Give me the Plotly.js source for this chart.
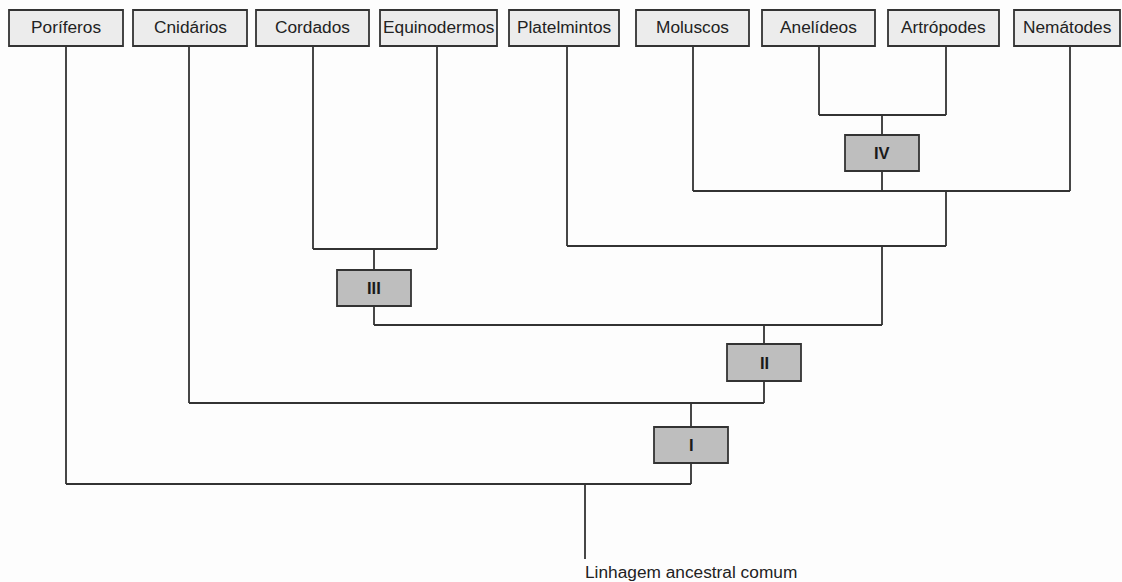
<!DOCTYPE html>
<html>
<head>
<meta charset="utf-8">
<script src="https://cdn.plot.ly/plotly-3.0.1.min.js"></script>
<style>
  html, body { margin: 0; padding: 0; background: #fdfdfd; }
  #chart { width: 1122px; height: 582px; }
</style>
</head>
<body>
<div id="chart"></div>
<script>
// ---- content ----
const taxa = ['Poríferos', 'Cnidários', 'Cordados', 'Equinodermos', 'Platelmintos', 'Moluscos', 'Anelídeos', 'Artrópodes', 'Nemátodes'];
const cladeIds = ['A', 'B', 'C', 'D', 'E', 'F', 'R'];
const cladeChildren = [
  ['Anelídeos', 'Artrópodes'],
  ['Moluscos', 'A', 'Nemátodes'],
  ['Platelmintos', 'B'],
  ['Cordados', 'Equinodermos'],
  ['D', 'C'],
  ['Cnidários', 'E'],
  ['Poríferos', 'F']
];
const cladeMarker = ['IV', null, null, 'III', 'II', 'I', null];
const rootLabel = 'Linhagem ancestral comum';

// ---- diagram geometry (pixel-like axis units) ----
const taxonBoxLeft = [9, 133, 256, 380, 509, 636, 762, 888, 1014];
const taxonBoxRight = [123, 247, 369, 497, 619, 749, 875, 999, 1120];
const taxonStemX = [66, 189, 313, 437, 567, 693, 819, 946, 1070];
const taxonBoxTop = 10, taxonBoxBottom = 46;
const cladeJoinY = [115, 191, 246, 249, 325, 403, 484];
const cladeStemX = [882, 946, 882, 374, 764, 691, 585];
const markerTop = { 'IV': 135, 'III': 270, 'II': 344, 'I': 427 };
const markerBottom = { 'IV': 171, 'III': 306, 'II': 381, 'I': 463 };
const markerHalfW = 37;
const rootStemBottom = 559;

const lineColor = '#333333';
const fontFam = 'Liberation Sans, Arial, sans-serif';

function nodeX(id) {
  const t = taxa.indexOf(id);
  if (t >= 0) return taxonStemX[t];
  return cladeStemX[cladeIds.indexOf(id)];
}
function nodeTopY(id) {
  const t = taxa.indexOf(id);
  if (t >= 0) return taxonBoxBottom;
  return cladeJoinY[cladeIds.indexOf(id)];
}

const lx = [], ly = [];
cladeIds.forEach((cid, i) => {
  const ch = cladeChildren[i];
  const xs = ch.map(nodeX);
  const y = cladeJoinY[i];
  lx.push(Math.min(...xs), Math.max(...xs), null); ly.push(y, y, null);
  ch.forEach(c => { lx.push(nodeX(c), nodeX(c), null); ly.push(nodeTopY(c), y, null); });
});
// root stem
const rootIdx = cladeIds.indexOf('R');
lx.push(cladeStemX[rootIdx], cladeStemX[rootIdx], null);
ly.push(cladeJoinY[rootIdx], rootStemBottom, null);

const shapes = [];
const annotations = [];
taxa.forEach((t, i) => {
  shapes.push({ type: 'rect', xref: 'x', yref: 'y', x0: taxonBoxLeft[i], x1: taxonBoxRight[i], y0: taxonBoxTop, y1: taxonBoxBottom,
    fillcolor: '#ececec', line: { color: lineColor, width: 1.8 }, layer: 'above' });
  annotations.push({ x: (taxonBoxLeft[i] + taxonBoxRight[i]) / 2, y: (taxonBoxTop + taxonBoxBottom) / 2 - 1, xref: 'x', yref: 'y',
    text: t, showarrow: false, font: { family: fontFam, size: 17.3, color: '#222' } });
});
cladeIds.forEach((cid, i) => {
  const m = cladeMarker[i];
  if (!m) return;
  const cx = cladeStemX[i];
  shapes.push({ type: 'rect', xref: 'x', yref: 'y', x0: cx - markerHalfW, x1: cx + markerHalfW, y0: markerTop[m], y1: markerBottom[m],
    fillcolor: '#bebebe', line: { color: lineColor, width: 1.8 }, layer: 'above' });
  annotations.push({ x: cx, y: (markerTop[m] + markerBottom[m]) / 2, xref: 'x', yref: 'y',
    text: '<b>' + m + '</b>', showarrow: false, font: { family: fontFam, size: 16.5, color: '#1a1a1a' } });
});
annotations.push({ x: cladeStemX[rootIdx] - 2, y: 572, xref: 'x', yref: 'y', xanchor: 'left', text: rootLabel, showarrow: false,
  font: { family: fontFam, size: 17.3, color: '#222' } });

const traces = [{
  type: 'scatter', mode: 'lines', x: lx, y: ly, hoverinfo: 'skip',
  line: { color: lineColor, width: 1.8 }, connectgaps: false, showlegend: false
}];

const layout = {
  width: 1122, height: 582,
  margin: { l: 0, r: 0, t: 0, b: 0 },
  paper_bgcolor: '#fdfdfd', plot_bgcolor: '#fdfdfd',
  xaxis: { range: [0, 1122], visible: false, fixedrange: true },
  yaxis: { range: [582, 0], visible: false, fixedrange: true },
  shapes: shapes, annotations: annotations, showlegend: false
};
Plotly.newPlot('chart', traces, layout, { staticPlot: true, displayModeBar: false });
</script>
</body>
</html>
